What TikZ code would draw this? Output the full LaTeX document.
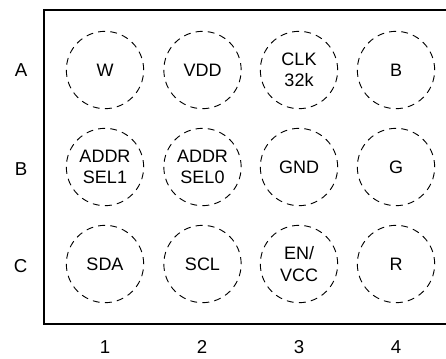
\documentclass[tikz,border=0pt]{standalone}
\usepackage{fontspec}
\setmainfont{Liberation Sans}
\tikzset{
  pin/.style={circle,draw=black,line width=0.7pt,minimum size=58pt,inner sep=0pt,align=center,font=\fontsize{13.5}{16}\selectfont,dash pattern=on 5.2pt off 3.9pt},
  lab/.style={font=\fontsize{14}{16}\selectfont,inner sep=0pt}
}
\begin{document}
\begin{tikzpicture}[x=0.75pt,y=-0.75pt]
\useasboundingbox (0,0) rectangle (446,358);
\coordinate (c1) at (44,10);
\coordinate (c2) at (44,324);
\coordinate (e1) at (446,10);
\coordinate (e2) at (446,324);
\draw[line width=1.6pt] (e1) -- (c1) -- (c2) -- (e2);
\node[pin] (w) at (105,70) {W};
\node[pin] (vdd) at (202.5,70) {VDD};
\node[pin] (clk) at (299,70) {CLK\\32k};
\node[pin] (b) at (396,70) {B};
\node[pin] (a1) at (105,167) {ADDR\\SEL1};
\node[pin] (a0) at (202.5,167) {ADDR\\SEL0};
\node[pin] (gnd) at (299,167) {GND};
\node[pin] (g) at (396,167) {G};
\node[pin] (sda) at (105,264) {SDA};
\node[pin] (scl) at (202.5,264) {SCL};
\node[pin] (en) at (299,264) {EN/\\VCC};
\node[pin] (r) at (396,264) {R};
\node[lab] (la) at (21,70) {A};
\node[lab] (lb) at (21,169) {B};
\node[lab] (lc) at (20.5,266) {C};
\node[lab] (n1) at (105,347) {1};
\node[lab] (n2) at (202,347) {2};
\node[lab] (n3) at (299,347) {3};
\node[lab] (n4) at (396,347) {4};
\end{tikzpicture}
\end{document}
